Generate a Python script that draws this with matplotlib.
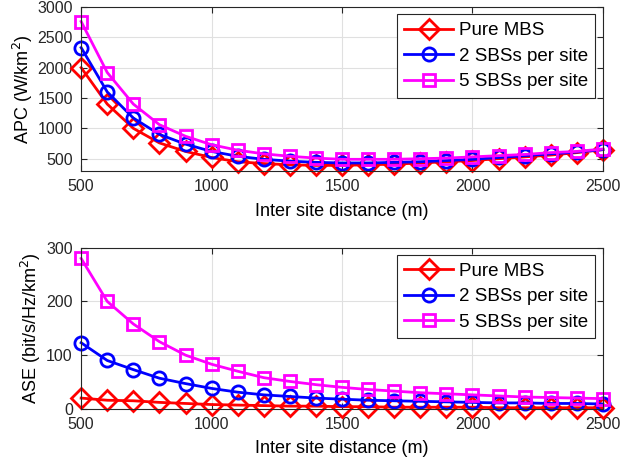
import numpy as np
import matplotlib
matplotlib.use('Agg')
import matplotlib.pyplot as plt

plt.rcParams['font.family'] = ['Liberation Sans', 'DejaVu Sans']

isd = [500, 600, 700, 800, 900, 1000, 1100, 1200, 1300, 1400, 1500,
       1600, 1700, 1800, 1900, 2000, 2100, 2200, 2300, 2400, 2500]

apc_mbs = [2000, 1400, 1000, 760, 620, 520, 450, 420, 400, 390, 390,
           400, 410, 430, 450, 470, 500, 530, 560, 600, 650]
apc_2sbs = [2330, 1600, 1170, 900, 740, 620, 540, 490, 460, 440, 430,
            430, 440, 450, 470, 490, 520, 550, 580, 610, 650]
apc_5sbs = [2760, 1920, 1400, 1060, 870, 730, 640, 580, 540, 510, 490,
            490, 490, 500, 510, 530, 550, 570, 600, 620, 660]

ase_mbs = [20, 16, 15, 12, 10, 8, 7, 6, 5, 5, 4, 4, 3, 3, 3, 3, 2, 2, 2, 2, 2]
ase_2sbs = [123, 90, 73, 57, 47, 38, 31, 26, 23, 20, 18, 16, 15, 14, 13,
            12, 11, 11, 10, 10, 9]
ase_5sbs = [280, 200, 158, 125, 100, 83, 70, 58, 51, 45, 40, 36, 33, 30,
            28, 26, 24, 22, 21, 20, 19]

labels = ['Pure MBS', '2 SBSs per site', '5 SBSs per site']
colors = ['#ff0000', '#0000ff', '#ff00ff']
markers = ['D', 'o', 's']
msizes = [10, 9.5, 8.5]


def style_axes(ax):
    ax.grid(True, color='#e0e0e0', lw=0.8)
    ax.set_axisbelow(True)
    ax.tick_params(direction='in', labelsize=11.5, colors='#262626', length=4,
                   pad=6, top=True, right=True, labeltop=False, labelright=False)
    for s in ax.spines.values():
        s.set_color('#262626')
        s.set_linewidth(0.8)


def draw(ax, series):
    for y, lab, c, m, ms in zip(series, labels, colors, markers, msizes):
        ax.plot(isd, y, color=c, lw=2, marker=m, ms=ms, mfc='none',
                mec=c, mew=2, label=lab, clip_on=False)
    leg = ax.legend(loc='upper right', fontsize=13.5, fancybox=False,
                    framealpha=1, edgecolor='#262626', handlelength=2.6,
                    borderpad=0.4, labelspacing=0.45, handletextpad=0.3,
                    borderaxespad=0.4)
    leg.get_frame().set_linewidth(0.8)


fig = plt.figure(figsize=(6.34, 4.63), dpi=100)
ax1 = fig.add_axes([0.128, 0.631, 0.823, 0.354])
ax2 = fig.add_axes([0.128, 0.117, 0.823, 0.348])

draw(ax1, [apc_mbs, apc_2sbs, apc_5sbs])
ax1.set_xlim(500, 2500)
ax1.set_ylim(300, 3000)
ax1.set_xticks([500, 1000, 1500, 2000, 2500])
ax1.set_yticks([500, 1000, 1500, 2000, 2500, 3000])
ax1.set_xlabel('Inter site distance (m)', fontsize=13, labelpad=6)
ax1.set_ylabel('APC (W/km$^2$)', fontsize=13, labelpad=2)
style_axes(ax1)

draw(ax2, [ase_mbs, ase_2sbs, ase_5sbs])
ax2.set_xlim(500, 2500)
ax2.set_ylim(0, 300)
ax2.set_xticks([500, 1000, 1500, 2000, 2500])
ax2.set_yticks([0, 100, 200, 300])
ax2.set_xlabel('Inter site distance (m)', fontsize=13, labelpad=6)
ax2.set_ylabel('ASE (bit/s/Hz/km$^2$)', fontsize=13, labelpad=2)
style_axes(ax2)

fig.savefig('out.png', dpi=100)
